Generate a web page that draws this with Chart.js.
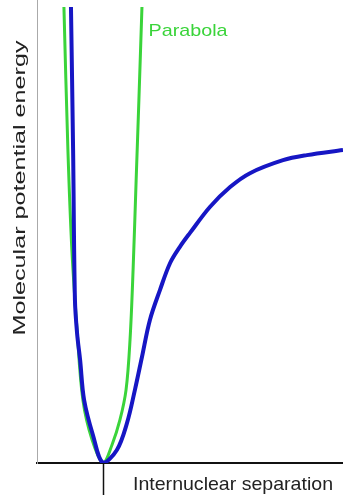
<!DOCTYPE html>
<html>
<head>
<meta charset="utf-8">
<script src="https://cdn.jsdelivr.net/npm/chart.js@4/dist/chart.umd.min.js"></script>
<style>
  html, body { margin: 0; padding: 0; background: #fff; }
  #wrap { width: 343px; height: 504px; position: relative; }
</style>
</head>
<body>
<div id="wrap"><canvas id="potentialChart"></canvas></div>
<script>
// Morse-like potential (blue)
var morseSeparation = [1.11, 1.18, 1.24, 1.31, 1.41, 1.54, 1.83, 2.16, 2.61, 2.94, 3.20, 3.43, 3.69, 4.02, 4.35, 4.67, 5.00, 5.65, 6.31, 6.96, 8.04, 8.82, 10.0];
var morseEnergy     = [9.85, 6.76, 3.52, 2.80, 2.22, 1.36, 0.60, 0.00, 0.28, 0.86, 1.58, 2.29, 3.09, 3.74, 4.32, 4.67, 4.97, 5.53, 5.96, 6.26, 6.54, 6.65, 6.76];

// Parabola (green)
var parabolaSeparation = [0.88, 1.01, 1.14, 1.31, 1.50, 1.80, 2.16, 2.45, 2.71, 2.91, 3.04, 3.14, 3.24, 3.33, 3.43];
var parabolaEnergy     = [9.85, 6.76, 4.60, 2.87, 1.36, 0.50, 0.00, 0.39, 0.93, 1.58, 2.66, 4.17, 6.11, 7.84, 9.85];

var equilibriumSeparation = 2.16;

var yTitle = 'Molecular potential energy';
var xTitle = 'Internuclear separation';
var parabolaLabel = 'Parabola';

function toPoints(xs, ys) {
    var pts = [];
    for (var i = 0; i < xs.length; i++) {
        pts.push({ x: xs[i], y: ys[i] });
    }
    return pts;
}

// draw stretched text so it fills a given width
function stretchedText(ctx, text, cx, cy, width, font, color, angle) {
    ctx.save();
    ctx.font = font;
    ctx.fillStyle = color;
    ctx.textAlign = 'center';
    ctx.textBaseline = 'middle';
    var natural = ctx.measureText(text).width;
    ctx.translate(cx, cy);
    ctx.rotate(angle);
    ctx.scale(width / natural, 1);
    ctx.fillText(text, 0, 0);
    ctx.restore();
}

var labelsPlugin = {
    id: 'labels',
    afterDraw: function(chart) {
        var ctx = chart.ctx;
        var xScale = chart.scales.x;
        var area = chart.chartArea;

        // tick at equilibrium separation
        var tx = Math.round(xScale.getPixelForValue(equilibriumSeparation)) + 0.5;
        ctx.save();
        ctx.strokeStyle = '#111';
        ctx.lineWidth = 1.5;
        ctx.beginPath();
        ctx.moveTo(tx, area.bottom);
        ctx.lineTo(tx, area.bottom + 32);
        ctx.stroke();
        ctx.restore();

        stretchedText(ctx, yTitle, 20, 188, 295, '17px "Liberation Sans"', '#222', -Math.PI / 2);
        stretchedText(ctx, xTitle, 233, 485, 200, '19px "Liberation Sans"', '#222', 0);
        stretchedText(ctx, parabolaLabel, 188, 31, 79, '17px "Liberation Sans"', '#3ad43a', 0);
    }
};

var ctx = document.getElementById('potentialChart').getContext('2d');

var potentialChart = new Chart(ctx, {
    type: 'scatter',
    data: {
        datasets: [{
            label: 'Potential',
            data: toPoints(morseSeparation, morseEnergy),
            showLine: true,
            borderColor: '#1616c4',
            borderWidth: 4,
            pointRadius: 0,
            tension: 0.35,
            fill: false
        }, {
            label: 'Parabola',
            data: toPoints(parabolaSeparation, parabolaEnergy),
            showLine: true,
            borderColor: '#3ad43a',
            borderWidth: 3,
            pointRadius: 0,
            tension: 0.35,
            fill: false
        }]
    },
    options: {
        responsive: true,
        maintainAspectRatio: false,
        animation: false,
        layout: {
            padding: { left: 37, right: 0, top: 0, bottom: 41 }
        },
        plugins: {
            legend: { display: false },
            tooltip: { enabled: false }
        },
        scales: {
            x: {
                type: 'linear',
                min: 0,
                max: 10,
                ticks: { display: false },
                grid: { display: false },
                border: { display: true, color: '#111', width: 2 },
                afterFit: function(scale) { scale.height = 0; }
            },
            y: {
                type: 'linear',
                min: 0,
                max: 10,
                ticks: { display: false },
                grid: { display: false },
                border: { display: true, color: '#aaa', width: 1, dash: [2, 2] },
                afterFit: function(scale) { scale.width = 0; }
            }
        }
    },
    plugins: [labelsPlugin]
});
</script>
</body>
</html>
